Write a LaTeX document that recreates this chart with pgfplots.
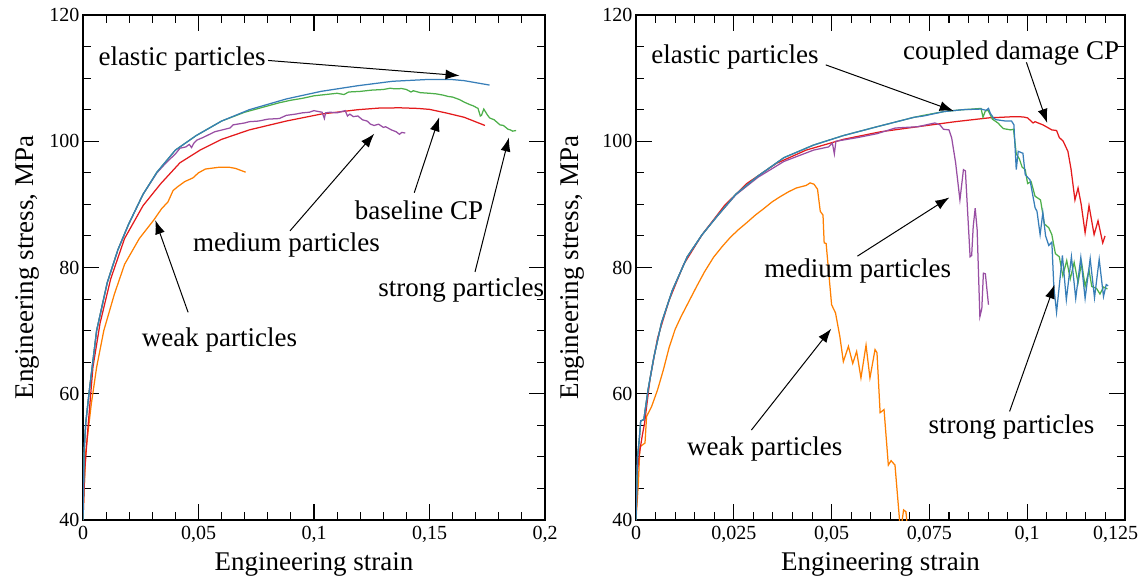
\documentclass[border=0pt]{standalone}
\usepackage{fontspec}
\setmainfont{Liberation Serif}
\usepackage{pgfplots}
\pgfplotsset{compat=1.18}
\usetikzlibrary{arrows.meta}
\definecolor{cblue}{HTML}{377EB8}
\definecolor{cgreen}{HTML}{4DAF4A}
\definecolor{cred}{HTML}{E41A1C}
\definecolor{cpurple}{HTML}{984EA3}
\definecolor{corange}{HTML}{FF7F00}
\tikzset{
  ann/.style={font=\fontsize{27}{32}\selectfont, inner sep=0pt, anchor=center},
  arr/.style={-{Latex[length=14pt,width=10pt]}, line width=1pt, black},
}
\pgfplotsset{
  myaxis/.style={
    scale only axis, height=505pt,
    ymin=40, ymax=120, xmin=0,
    ytick={40,60,80,100,120}, minor y tick num=3,
    clip mode=individual,
    /pgf/number format/assume math mode=true,
    tick label style={font=\fontsize{20}{24}\selectfont},
    label style={font=\fontsize{27}{32}\selectfont},
    major tick length=16pt, minor tick length=8pt,
    every tick/.style={black, line width=1.1pt},
    axis line style={line width=1.3pt},
    xlabel={Engineering strain},
    ylabel={Engineering stress, MPa},
    xlabel style={at={(axis description cs:0.5,0)}, anchor=base, yshift=-50pt},
    xticklabel style={yshift=-3pt},
    every axis plot/.append style={line width=1.25pt, mark=none},
  },
}
\begin{document}
\begin{tikzpicture}
\useasboundingbox (0,0) rectangle (1145pt,576pt);
% ---------------- LEFT ----------------
\begin{axis}[myaxis,
  at={(83pt,56pt)}, anchor=south west, width=462pt,
  xmax=0.2,
  xtick={0,0.05,0.1,0.15,0.2}, xticklabels={0,{0,05},{0,1},{0,15},{0,2}},
  minor x tick num=4,
  ylabel style={at={(axis description cs:-0.107,0.5)}, anchor=base},
]
% weak
\addplot[corange] coordinates {
(0,40) (0.0005,45) (0.0012,50.8) (0.0036,58.4) (0.0059,64.2) (0.009,70.0)
(0.0136,75.8) (0.018,80.5) (0.0244,84.6) (0.0306,87.5) (0.034,89.3) (0.0368,90.4)
(0.039,92.2) (0.041,92.8) (0.044,93.6) (0.0476,94.2) (0.050,95.0) (0.053,95.6)
(0.0593,95.9) (0.063,95.9) (0.066,95.7) (0.0704,95.1)};
% baseline
\addplot[cred] coordinates {
(0,40) (0.0008,48) (0.002,54) (0.0043,64.2) (0.0074,71.2) (0.012,78.2) (0.018,84.6)
(0.026,89.8) (0.0337,93.3) (0.042,96.6) (0.0507,98.6) (0.060,100.3) (0.072,101.8)
(0.088,103.2) (0.103,104.3) (0.119,105.0) (0.128,105.25) (0.137,105.3) (0.145,105.2)
(0.150,105.05) (0.157,104.5) (0.165,103.8) (0.174,102.5)};
% medium
\addplot[cpurple] coordinates {
(0,40) (0.0005,51) (0.0012,55.4) (0.0028,60.7) (0.0059,70) (0.0105,77.6) (0.0151,82.8)
(0.0198,86.9) (0.026,91.6) (0.032,95.0) (0.036,96.6) (0.040,98.0) (0.042,98.9)
(0.0445,99.1) (0.046,99.5) (0.047,99.0) (0.048,99.7) (0.0494,100.2) (0.052,100.6)
(0.057,101.5) (0.0636,102.1) (0.065,102.6) (0.070,102.9) (0.072,103.1) (0.076,103.2)
(0.080,103.5) (0.085,103.6) (0.088,104.1) (0.092,104.3) (0.095,104.5) (0.098,104.6)
(0.100,104.85) (0.102,104.7) (0.1035,104.6) (0.1045,103.6) (0.105,104.5) (0.107,104.6)
(0.110,104.5) (0.112,104.7) (0.1135,104.85) (0.1145,104.0) (0.1155,104.3) (0.117,103.9)
(0.119,104.0) (0.121,103.4) (0.123,103.2) (0.1245,102.7) (0.126,102.5) (0.128,102.7)
(0.130,102.2) (0.131,102.3) (0.1335,101.8) (0.1356,101.5) (0.137,101.1) (0.138,101.4)
(0.1395,101.3)};
% strong
\addplot[cgreen] coordinates {
(0,40) (0.0005,51) (0.0012,55.4) (0.0028,60.7) (0.0059,70) (0.0105,77.6) (0.0151,82.8)
(0.0198,86.9) (0.026,91.6) (0.032,95.1) (0.040,98.6) (0.049,100.9) (0.060,103.2)
(0.065,103.9) (0.070,104.6) (0.075,105.1) (0.080,105.6) (0.085,106.1) (0.090,106.5)
(0.095,106.8) (0.100,107.2) (0.105,107.4) (0.110,107.6) (0.113,107.4) (0.115,107.8)
(0.120,107.9) (0.125,108.1) (0.130,108.2) (0.133,108.4) (0.135,108.3) (0.138,108.35)
(0.140,108.2) (0.142,107.8) (0.143,108.0) (0.146,107.7) (0.150,107.6) (0.153,107.5)
(0.156,107.3) (0.158,107.1) (0.160,107.0) (0.163,106.6) (0.165,106.2) (0.1675,105.8)
(0.169,105.6) (0.171,105.2) (0.172,104.0) (0.1725,104.1) (0.1735,105.1) (0.175,104.2)
(0.176,103.7) (0.178,103.4) (0.1805,102.6) (0.182,102.5) (0.184,101.9) (0.185,101.8)
(0.186,101.6) (0.1875,101.7)};
% elastic
\addplot[cblue] coordinates {
(0,40) (0.0005,51) (0.0012,55.4) (0.0028,60.7) (0.0059,70) (0.0105,77.6) (0.0151,82.8)
(0.0198,86.9) (0.026,91.6) (0.032,95.1) (0.040,98.6) (0.049,100.9) (0.060,103.2)
(0.072,105.0) (0.088,106.7) (0.103,107.9) (0.119,108.8) (0.134,109.5) (0.150,109.8)
(0.159,109.8) (0.165,109.6) (0.176,108.9)};
\node[ann] at (axis cs:0.0429,113.1) {elastic particles};
\draw[arr] (axis cs:0.0801,112.8) -- (axis cs:0.163,110.4);
\node[ann] at (axis cs:0.1455,89.0) {baseline CP};
\draw[arr] (axis cs:0.1434,91.85) -- (axis cs:0.1542,103.8);
\node[ann] at (axis cs:0.0881,83.5) {medium particles};
\draw[arr] (axis cs:0.0896,85.8) -- (axis cs:0.1261,101.2);
\node[ann] at (axis cs:0.1637,76.4) {strong particles};
\draw[arr] (axis cs:0.1697,79.3) -- (axis cs:0.1844,100.6);
\node[ann] at (axis cs:0.0591,68.5) {weak particles};
\draw[arr] (axis cs:0.0455,72.9) -- (axis cs:0.0313,87.5);
\end{axis}
% ---------------- RIGHT ----------------
\begin{axis}[myaxis,
  at={(636pt,56pt)}, anchor=south west, width=489pt,
  xmax=0.125,
  xtick={0,0.025,0.05,0.075,0.1,0.125},
  xticklabels={0,{0,025},{0,05},{0,075},{0,1},{\hspace*{-19pt}0,125}},
  minor x tick num=4,
  ylabel style={at={(axis description cs:-0.1174,0.5)}, anchor=base},
]
% weak
\addplot[corange] coordinates {
(0,40) (0.0006,45.8) (0.001,51.6) (0.0023,52.2) (0.0027,56.4) (0.004,58.0) (0.0055,60.6)
(0.007,63.8) (0.0085,67.4) (0.0100,70.2) (0.0115,72.2) (0.0135,74.6) (0.0155,77.0)
(0.0175,79.3) (0.0198,81.6) (0.022,83.3) (0.024,84.7) (0.026,85.9) (0.0283,87.1)
(0.0305,88.3) (0.0326,89.3) (0.0348,90.4) (0.0368,91.2) (0.039,92.0) (0.041,92.6)
(0.0435,93.0) (0.0445,93.4) (0.0455,93.2) (0.0464,92.4)
(0.0471,88.9) (0.0478,88.3) (0.0481,83.9) (0.0486,83.8) (0.0500,74.1) (0.0510,72.8)
(0.0521,69.1) (0.053,65.1) (0.0543,67.5) (0.0554,64.8) (0.0564,66.7) (0.0575,62.5)
(0.0588,67.7) (0.0598,62.5) (0.0611,67.0) (0.0616,66.5) (0.0624,57.0) (0.0634,57.5)
(0.0645,48.7) (0.0652,49.4) (0.0662,48.7) (0.0673,40.5) (0.0676,38) (0.0684,41.6)
(0.069,41.3) (0.0695,38)};
% coupled damage CP
\addplot[cred] coordinates {
(0,40) (0.0004,48) (0.0008,50.2) (0.0015,53) (0.0022,55.4) (0.0036,62.4) (0.0055,68.8)
(0.0084,74.7) (0.0122,80.5) (0.0169,85.2) (0.0226,89.8) (0.0283,93.3) (0.0359,96.5)
(0.0435,98.6) (0.053,100.3) (0.0625,101.5) (0.072,102.3) (0.0816,103.1) (0.0901,103.7)
(0.0968,103.9) (0.099,103.85) (0.1001,103.7) (0.1015,102.9) (0.102,103.1) (0.104,102.6)
(0.1063,101.8) (0.1075,101.7) (0.1082,100.6) (0.1092,100.0) (0.1104,98.4) (0.1112,95.6)
(0.1122,90.7) (0.1130,92.6) (0.1138,90.0) (0.1148,85.5) (0.1158,89.8) (0.1171,85.2)
(0.1181,87.4) (0.1193,83.9) (0.1199,85.0)};
% medium
\addplot[cpurple] coordinates {
(0,40) (0.0004,50) (0.0008,52.5) (0.0012,55.7) (0.002,55.9) (0.0031,60.7) (0.0046,65.9)
(0.0065,71.2) (0.0093,76.4) (0.0131,81.7) (0.0169,85.2) (0.0207,88.1) (0.0255,91.5)
(0.0312,94.3) (0.0378,96.8) (0.0454,98.6) (0.0492,99.1) (0.0502,99.7) (0.0507,98.0)
(0.0511,100.0) (0.0568,100.6) (0.0616,101.2) (0.0663,102.1) (0.072,102.3) (0.0764,102.9)
(0.0777,102.6) (0.0786,101.9) (0.080,101.8) (0.0807,100.5) (0.0817,96.6) (0.0828,90.7)
(0.0837,95.5) (0.0842,95.3) (0.0854,81.7) (0.0858,81.9) (0.0862,86.5) (0.0867,89.4)
(0.0872,86) (0.0879,72.2) (0.0884,73.5) (0.0888,79.1) (0.0893,79.0) (0.0901,74.1)};
% strong
\addplot[cgreen] coordinates {
(0,40) (0.0004,50) (0.0008,52.5) (0.0012,55.7) (0.002,55.9) (0.0031,60.7) (0.0046,65.9)
(0.0065,71.2) (0.0093,76.4) (0.0131,81.7) (0.0169,85.2) (0.0207,88.1) (0.0255,91.6)
(0.0312,94.5) (0.0378,97.4) (0.0454,99.4) (0.053,100.9) (0.0616,102.3) (0.0711,103.8)
(0.0735,104.1) (0.0787,104.7) (0.0835,105.0) (0.0860,105.1) (0.0882,105.2) (0.0887,103.8)
(0.0893,104.8) (0.0900,104.9) (0.0911,103.5) (0.0925,102.9) (0.0939,102.0) (0.0958,101.8)
(0.0965,101.9) (0.0972,98.0) (0.0980,97.2) (0.0987,95.9) (0.0995,95.5) (0.1001,93.3)
(0.101,93.6) (0.102,91.3) (0.1034,90.7) (0.1044,86.9) (0.1055,86.3) (0.1063,85.2)
(0.1072,82.2) (0.1082,81.7) (0.1091,78.7) (0.1101,81.1) (0.111,78.2) (0.112,80.8)
(0.113,77.6) (0.1139,80.8) (0.1148,77.0) (0.1158,79.6) (0.1165,77.0) (0.1177,76.7)
(0.1186,75.8) (0.1195,76.9) (0.1205,76.6)};
% elastic
\addplot[cblue] coordinates {
(0,40) (0.0004,50) (0.0008,52.5) (0.0012,55.7) (0.002,55.9) (0.0031,60.7) (0.0046,65.9)
(0.0065,71.2) (0.0093,76.4) (0.0131,81.7) (0.0169,85.2) (0.0207,88.1) (0.0255,91.6)
(0.0312,94.5) (0.0378,97.4) (0.0454,99.4) (0.053,100.9) (0.0616,102.3) (0.0711,103.8)
(0.0735,104.0) (0.0787,104.7) (0.0835,105.0) (0.0882,105.1) (0.0895,104.9) (0.0901,105.2)
(0.0906,104.4) (0.0915,103.6) (0.0922,103.4) (0.0945,103.2) (0.096,103.2) (0.0966,102.6)
(0.0972,95.5) (0.0977,98.4) (0.0989,98.1) (0.0995,94.7) (0.1007,93.9) (0.102,89.5)
(0.1025,88.9) (0.1033,85.2) (0.104,88.7) (0.1047,85.0) (0.1055,83.5) (0.1063,84.0)
(0.1068,77.0) (0.1075,72.9) (0.1090,81.9) (0.1100,74.9) (0.1113,81.7) (0.1124,75.1)
(0.1137,81.6) (0.1148,75.1) (0.1161,81.4) (0.1172,75.2) (0.1184,81.3) (0.1195,75.4)
(0.1202,77.3) (0.1207,77.1)};
\node[ann] at (axis cs:0.0253,113.3) {elastic particles};
\draw[arr] (axis cs:0.0485,112.1) -- (axis cs:0.0812,104.8);
\node[ann] at (axis cs:0.0959,114.0) {coupled damage CP};
\draw[arr] (axis cs:0.0998,112.5) -- (axis cs:0.1051,102.9);
\node[ann] at (axis cs:0.0567,79.4) {medium particles};
\draw[arr] (axis cs:0.0566,81.8) -- (axis cs:0.0801,91.1);
\node[ann] at (axis cs:0.0960,54.8) {strong particles};
\draw[arr] (axis cs:0.0955,57.2) -- (axis cs:0.107,77.3);
\node[ann] at (axis cs:0.0329,51.3) {weak particles};
\draw[arr] (axis cs:0.0295,54.25) -- (axis cs:0.0499,70.3);
\end{axis}
\end{tikzpicture}
\end{document}
